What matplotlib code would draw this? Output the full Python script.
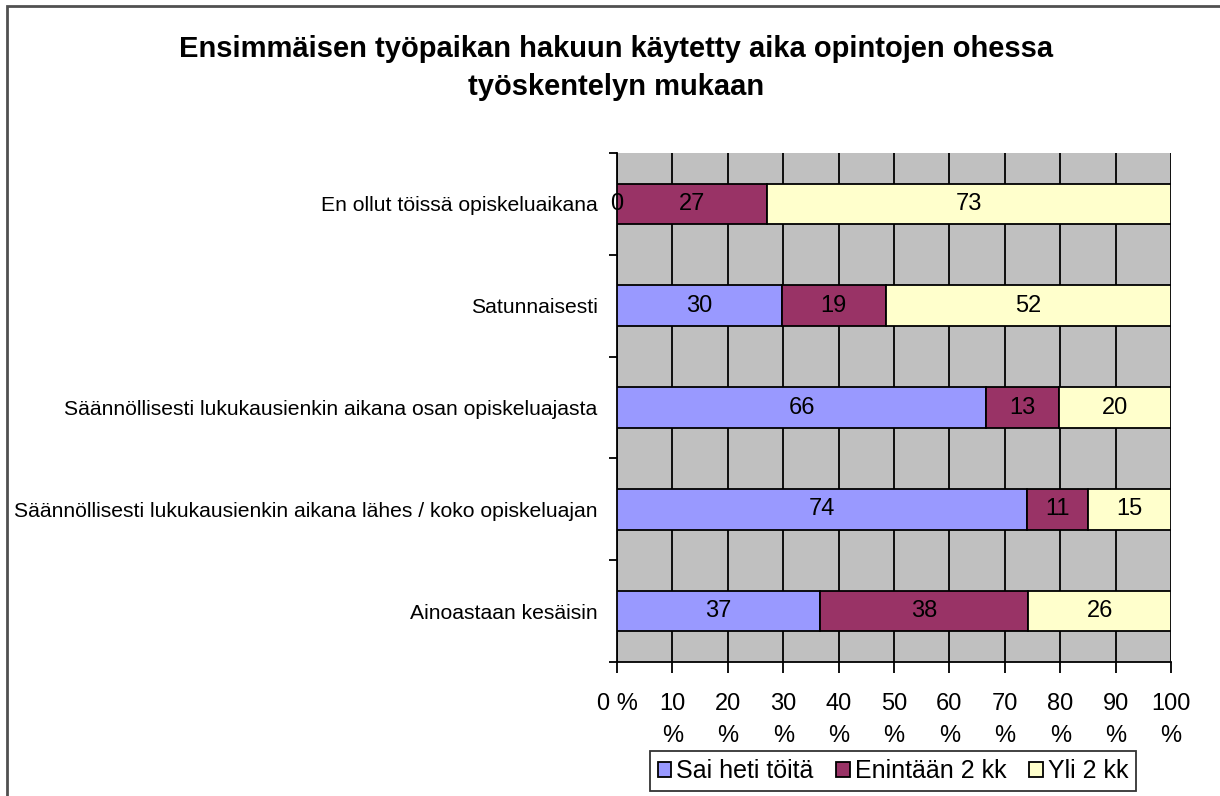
import matplotlib
matplotlib.use("Agg")
import matplotlib.pyplot as plt
from matplotlib.patches import Rectangle

# data
categories = [
    "En ollut töissä opiskeluaikana",
    "Satunnaisesti",
    "Säännöllisesti lukukausienkin aikana osan opiskeluajasta",
    "Säännöllisesti lukukausienkin aikana lähes / koko opiskeluajan",
    "Ainoastaan kesäisin",
]
series_names = ["Sai heti töitä", "Enintään 2 kk", "Yli 2 kk"]
sai_heti = [0, 30, 66, 74, 37]
enintaan = [27, 19, 13, 11, 38]
yli = [73, 52, 20, 15, 26]
colors = ["#9999FF", "#993366", "#FFFFCC"]
x_ticks = [0, 10, 20, 30, 40, 50, 60, 70, 80, 90, 100]
x_ticklabels = ["0 %"] + [f"{v}\n%" for v in x_ticks[1:]]
title = "Ensimmäisen työpaikan hakuun käytetty aika opintojen ohessa\ntyöskentelyn mukaan"

plt.rcParams["font.family"] = ["Liberation Sans", "DejaVu Sans"]

W, H = 1220, 796
fig = plt.figure(figsize=(W / 100, H / 100), dpi=100)

# outer chart border (runs off the right and bottom edge)
fig.patches.append(Rectangle((7 / W, -0.1), 1.2, 1.1 - 6 / H, transform=fig.transFigure,
                             fill=False, edgecolor="#505050", linewidth=2))

left, right, top, bottom = 617, 1171, 153, 662
ax = fig.add_axes([left / W, (H - bottom) / H, (right - left) / W, (bottom - top) / H])
ax.set_facecolor("#C0C0C0")

series = [sai_heti, enintaan, yli]
ypos = list(range(len(categories)))
totals = [sum(vals) for vals in zip(*series)]
starts = [0.0] * len(categories)
for name, vals, col in zip(series_names, series, colors):
    widths = [100.0 * v / t for v, t in zip(vals, totals)]
    ax.barh(ypos, widths, left=starts, height=0.4, color=col, edgecolor="black",
            linewidth=1.3, label=name, zorder=3)
    for y, s, w, v in zip(ypos, starts, widths, vals):
        ax.text(s + w / 2, y, str(v), ha="center", va="center", fontsize=17,
                color="black", zorder=4)
    starts = [s + w for s, w in zip(starts, widths)]

ax.set_xlim(0, 100)
ax.set_ylim(len(categories) - 0.5, -0.5)
ax.set_xticks(x_ticks)
ax.set_xticklabels(x_ticklabels, fontsize=17, linespacing=1.6)
ax.xaxis.grid(True, color="black", linewidth=1.3, zorder=0)
ax.set_axisbelow(True)
ax.tick_params(axis="x", direction="out", length=8, width=1.3, pad=14)

ax.set_yticks(ypos)
ax.set_yticklabels(categories, fontsize=15.2)
ax.set_yticks([i - 0.5 for i in range(len(categories) + 1)], minor=True)
ax.tick_params(axis="y", which="major", length=0, pad=14)
ax.tick_params(axis="y", which="minor", direction="out", length=6, width=1.3)

for side in ["top", "right"]:
    ax.spines[side].set_visible(False)
ax.spines["left"].set_linewidth(1.3)
ax.spines["bottom"].set_linewidth(1.3)

fig.text(616 / W, 1 - 68 / H, title, ha="center", va="center", fontsize=21,
         fontweight="bold", linespacing=1.45)

leg = fig.legend(loc="center", bbox_to_anchor=(893 / W, 1 - 771 / H), ncol=3,
                 fontsize=18, frameon=True, fancybox=False, shadow=False,
                 handlelength=0.55, handleheight=0.55, handletextpad=0.2,
                 columnspacing=0.9, borderpad=0.32, borderaxespad=0)
leg.get_frame().set_edgecolor("black")
leg.get_frame().set_linewidth(1.3)
for h in leg.legend_handles:
    h.set_edgecolor("black")
    h.set_linewidth(1.3)

fig.savefig("out.png", dpi=100)
